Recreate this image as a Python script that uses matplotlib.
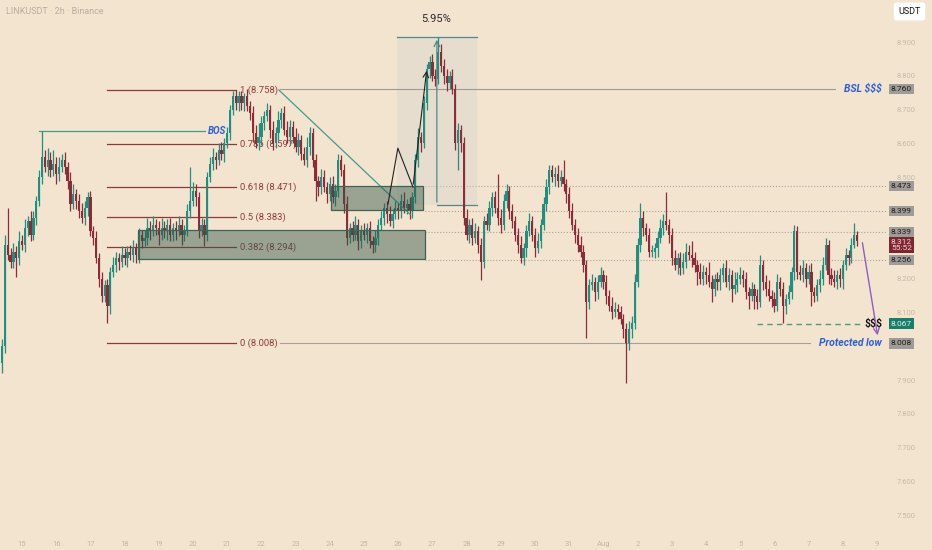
import matplotlib
matplotlib.use('Agg')
import matplotlib.pyplot as plt
import numpy as np
from matplotlib.patches import Rectangle

plt.rcParams['font.family'] = ['Roboto', 'DejaVu Sans']

# 2h candles of LINKUSDT, first one opens Jul 14 10:00 (x axis = day of July, Aug 1 = 32)
first_open = 7.95
closes = [
    8.00, 8.30, 8.27, 8.25, 8.28, 8.26, 8.31, 8.30, 8.35, 8.37, 8.33, 8.38,
    8.43, 8.50, 8.56, 8.53, 8.55, 8.52, 8.54, 8.51, 8.53, 8.55, 8.53, 8.49,
    8.42, 8.45, 8.43, 8.40, 8.38, 8.41, 8.44, 8.34, 8.32, 8.26, 8.20, 8.15,
    8.18, 8.12, 8.22, 8.24, 8.26, 8.25, 8.27, 8.26, 8.28, 8.27, 8.29, 8.27,
    8.33, 8.31, 8.32, 8.35, 8.34, 8.36, 8.35, 8.33, 8.35, 8.34, 8.36, 8.33,
    8.35, 8.34, 8.36, 8.33, 8.34, 8.40, 8.43, 8.46, 8.44, 8.34, 8.36, 8.33,
    8.50, 8.54, 8.56, 8.55, 8.58, 8.57, 8.60, 8.63, 8.70, 8.74, 8.72, 8.74,
    8.72, 8.74, 8.71, 8.69, 8.63, 8.60, 8.62, 8.66, 8.68, 8.70, 8.64, 8.60,
    8.63, 8.67, 8.69, 8.64, 8.62, 8.65, 8.62, 8.59, 8.61, 8.57, 8.55, 8.59,
    8.63, 8.55, 8.49, 8.47, 8.50, 8.47, 8.45, 8.48, 8.44, 8.46, 8.55, 8.52,
    8.42, 8.32, 8.35, 8.33, 8.36, 8.31, 8.34, 8.33, 8.35, 8.31, 8.30, 8.32,
    8.36, 8.38, 8.41, 8.39, 8.37, 8.39, 8.41, 8.40, 8.43, 8.41, 8.42, 8.40,
    8.44, 8.55, 8.62, 8.60, 8.72, 8.82, 8.84, 8.80, 8.79, 8.87, 8.83, 8.80,
    8.78, 8.80, 8.76, 8.60, 8.64, 8.60, 8.38, 8.33, 8.36, 8.32, 8.34, 8.30,
    8.25, 8.37, 8.36, 8.41, 8.44, 8.41, 8.38, 8.36, 8.43, 8.46, 8.40, 8.37,
    8.33, 8.30, 8.26, 8.29, 8.34, 8.37, 8.33, 8.29, 8.31, 8.36, 8.42, 8.47,
    8.52, 8.50, 8.51, 8.49, 8.50, 8.48, 8.45, 8.40, 8.36, 8.33, 8.30, 8.28,
    8.24, 8.13, 8.18, 8.19, 8.16, 8.19, 8.21, 8.19, 8.15, 8.12, 8.10, 8.11,
    8.10, 8.08, 8.05, 8.01, 8.05, 8.07, 8.19, 8.30, 8.38, 8.35, 8.33, 8.28,
    8.28, 8.29, 8.32, 8.35, 8.37, 8.36, 8.33, 8.26, 8.24, 8.26, 8.23, 8.25,
    8.28, 8.27, 8.26, 8.24, 8.22, 8.20, 8.22, 8.21, 8.19, 8.17, 8.20, 8.19,
    8.21, 8.23, 8.19, 8.21, 8.17, 8.18, 8.20, 8.21, 8.20, 8.16, 8.15, 8.17,
    8.15, 8.13, 8.24, 8.19, 8.17, 8.15, 8.14, 8.12, 8.19, 8.17, 8.12, 8.14,
    8.16, 8.22, 8.34, 8.22, 8.21, 8.23, 8.20, 8.22, 8.16, 8.15, 8.18, 8.20,
    8.24, 8.30, 8.21, 8.20, 8.19, 8.21, 8.20, 8.24, 8.27, 8.26, 8.30, 8.33, 8.312,
]
# upper / lower wick length beyond the body, in thousandths
wick_up = [
    20, 30, 110, 20, 25, 15, 30, 20, 25, 15, 30, 20,
    15, 20, 77, 20, 35, 25, 40, 20, 30, 20, 25, 15,
    25, 30, 15, 20, 25, 20, 15, 20, 15, 20, 15, 20,
    15, 20, 15, 25, 20, 15, 25, 20, 15, 20, 25, 15,
    20, 15, 25, 30, 20, 25, 15, 20, 30, 20, 15, 20,
    15, 20, 25, 15, 20, 20, 100, 25, 20, 15, 20, 15,
    15, 20, 25, 15, 20, 25, 15, 20, 15, 15, 18, 15,
    15, 10, 20, 15, 20, 25, 40, 20, 15, 20, 15, 25,
    20, 25, 15, 20, 25, 20, 15, 25, 20, 15, 20, 30,
    20, 15, 20, 15, 25, 20, 15, 20, 25, 20, 20, 15,
    20, 25, 15, 20, 25, 15, 20, 25, 15, 20, 15, 25,
    15, 20, 15, 20, 25, 15, 20, 15, 20, 25, 15, 20,
    15, 20, 25, 15, 20, 15, 20, 25, 20, 45, 25, 20,
    20, 15, 20, 15, 20, 15, 20, 25, 15, 20, 25, 15,
    20, 15, 25, 20, 15, 20, 100, 25, 20, 20, 15, 20,
    15, 20, 25, 15, 20, 25, 15, 20, 25, 15, 20, 25,
    16, 15, 20, 25, 20, 50, 15, 20, 25, 15, 20, 25,
    20, 15, 20, 25, 15, 20, 25, 15, 20, 15, 25, 20,
    15, 20, 15, 20, 25, 20, 25, 20, 43, 20, 15, 20,
    20, 15, 20, 25, 20, 86, 15, 20, 25, 15, 20, 25,
    25, 20, 40, 20, 15, 25, 20, 15, 40, 20, 15, 20,
    20, 15, 25, 20, 15, 40, 20, 25, 15, 20, 15, 20,
    15, 20, 30, 15, 20, 25, 15, 20, 25, 15, 20, 15,
    20, 15, 20, 15, 20, 25, 15, 20, 25, 15, 20, 25,
    25, 20, 15, 20, 25, 15, 20, 15, 20, 15, 20, 34, 10,
]
wick_dn = [
    30, 20, 15, 20, 20, 55, 20, 15, 20, 25, 20, 15,
    20, 15, 20, 15, 25, 20, 15, 30, 20, 15, 20, 25,
    20, 15, 25, 20, 15, 20, 25, 15, 20, 15, 25, 20,
    20, 50, 25, 15, 20, 25, 15, 20, 25, 15, 20, 25,
    25, 20, 15, 20, 25, 15, 20, 30, 15, 20, 25, 20,
    20, 25, 15, 30, 20, 15, 20, 15, 25, 20, 15, 35,
    20, 15, 20, 25, 15, 20, 25, 15, 20, 15, 20, 25,
    20, 25, 15, 20, 25, 15, 20, 25, 20, 15, 25, 20,
    15, 20, 25, 15, 20, 25, 20, 15, 25, 20, 15, 20,
    25, 20, 60, 25, 20, 15, 25, 20, 15, 25, 20, 15,
    25, 20, 15, 20, 15, 25, 20, 15, 25, 20, 24, 20,
    20, 15, 20, 25, 15, 20, 15, 25, 20, 15, 20, 25,
    20, 15, 20, 25, 15, 20, 25, 15, 20, 15, 20, 25,
    25, 20, 15, 20, 80, 25, 20, 15, 25, 20, 15, 25,
    55, 20, 15, 20, 25, 15, 20, 25, 15, 20, 25, 20,
    20, 25, 15, 20, 25, 15, 20, 25, 15, 20, 15, 20,
    20, 15, 25, 20, 15, 20, 25, 20, 15, 25, 20, 15,
    20, 106, 20, 15, 25, 20, 15, 20, 25, 15, 20, 15,
    20, 15, 25, 120, 20, 25, 20, 15, 20, 25, 20, 15,
    15, 20, 25, 15, 20, 15, 25, 20, 15, 25, 20, 15,
    20, 15, 25, 20, 40, 15, 20, 25, 15, 40, 20, 25,
    25, 20, 15, 25, 40, 15, 20, 15, 25, 20, 40, 15,
    40, 20, 15, 25, 20, 15, 25, 20, 15, 20, 50, 25,
    15, 20, 25, 20, 15, 20, 25, 15, 40, 20, 15, 20,
    20, 15, 25, 20, 15, 20, 25, 30, 15, 20, 15, 10, 15,
]

day_ticks = list(range(15, 41))
day_labels = [str(d) for d in range(15, 32)] + ['Aug'] + [str(d) for d in range(2, 10)]
price_ticks = [8.9, 8.8, 8.7, 8.6, 8.5, 8.2, 8.1, 7.9, 7.8, 7.7, 7.6, 7.5]

fib_ratios = ['0', '0.382', '0.5', '0.618', '0.786', '1']
fib_levels = [8.008, 8.294, 8.383, 8.471, 8.597, 8.758]

badge_levels = [8.760, 8.473, 8.399, 8.339, 8.256, 8.008]
dotted_levels = [8.473, 8.399, 8.339, 8.256]
last_price = 8.312
countdown = '55:52'
liq_level = 8.067
bos_level = 8.637
move_low, move_high = 8.418, 8.915
move_label = '5.95%'

BG = '#f3e4d0'
UP = '#1f8f7f'
DN = '#8b2c38'
FIB = '#8e3a3a'
TEAL = '#3d9e8e'
BLUE = '#2c5fd6'

fig = plt.figure(figsize=(9.32, 5.5), dpi=100)
fig.patch.set_facecolor(BG)
ax = fig.add_axes([0, 20 / 550, 887 / 932, 530 / 550])
ax.set_facecolor(BG)
ax.set_xlim(14.357, 40.292)
ax.set_ylim(7.4562, 9.0243)
for s in ax.spines.values():
    s.set_visible(False)

# candles
c = np.array(closes)
o = np.r_[first_open, c[:-1]]
h = np.maximum(o, c) + np.array(wick_up) / 1000
l = np.minimum(o, c) - np.array(wick_dn) / 1000
t = 14 + 5 / 12 + np.arange(len(c)) / 12
col = np.where(c >= o, UP, DN)
ax.vlines(t, l, h, colors=col, lw=0.9, zorder=3)
ax.bar(t, np.maximum(np.abs(c - o), 0.005), bottom=np.minimum(o, c), width=0.066,
       color=col, lw=0, zorder=4)

# fib retracement
for r, lvl in zip(fib_ratios, fib_levels):
    ax.plot([17.5, 21.26], [lvl, lvl], color=FIB, lw=0.9, zorder=2)
    ax.text(21.38, lvl, f'{r} ({lvl:.3f})', color=FIB, fontsize=6.8,
            va='center', ha='left', zorder=2)

# liquidity lines
ax.plot([22.53, 38.77], [8.760, 8.760], color='#9c9a98', lw=0.8, zorder=2)
ax.text(40.15, 8.760, 'BSL $$$', color=BLUE, fontsize=7.5, fontweight='bold',
        style='italic', ha='right', va='center', parse_math=False, zorder=6)
ax.plot([22.54, 38.04], [8.008, 8.008], color='#aa9c9c', lw=0.8, zorder=2)
ax.text(40.15, 8.008, 'Protected low', color=BLUE, fontsize=7.5, fontweight='bold',
        style='italic', ha='right', va='center', zorder=6)
ax.plot([36.49, 39.56], [liq_level, liq_level], color='#4f9a7a', lw=1,
        ls=(0, (4, 3)), zorder=2)
ax.text(40.15, liq_level, '$$$', color='#111111', fontsize=7.5, fontweight='bold',
        ha='right', va='center', parse_math=False, zorder=6)

# BOS and trendline
ax.plot([15.5, 20.35], [bos_level, bos_level], color=TEAL, lw=0.9, zorder=2)
ax.text(20.44, bos_level, 'BOS', color=BLUE, fontsize=7, fontweight='bold',
        style='italic', ha='left', va='center', zorder=6)
ax.plot([22.51, 26.35], [8.758, 8.39], color=TEAL, lw=0.9, zorder=5)

# zones
for x0, x1, y0, y1 in [(18.39, 26.78, 8.258, 8.344), (24.04, 26.72, 8.403, 8.474)]:
    ax.add_patch(Rectangle((x0, y0), x1 - x0, y1 - y0, fc='#2f5545', alpha=0.45,
                           ec='none', zorder=5))
    ax.add_patch(Rectangle((x0, y0), x1 - x0, y1 - y0, fc='none', ec='#3f6352',
                           lw=0.9, zorder=5))
for lvl in dotted_levels:
    ax.plot([26.78, 40.292], [lvl, lvl], color='#aaa49c', lw=0.8, ls=':', zorder=1)

# price range measurement
ax.add_patch(Rectangle((25.96, move_low), 28.30 - 25.96, move_high - move_low,
                       fc='#d6d2cc', alpha=0.38, lw=0, zorder=1))
ax.plot([25.96, 28.30], [move_high, move_high], color='#4f8a8a', lw=0.9, zorder=2)
ax.plot([27.13, 28.30], [move_low, move_low], color='#4f8a8a', lw=0.9, zorder=2)
ax.annotate('', xy=(27.13, move_high), xytext=(27.13, move_low),
            arrowprops=dict(arrowstyle='->', color='#4f8a8a', lw=0.9), zorder=2)
ax.text(27.1, 8.968, move_label, color='#2a2a2a', fontsize=8, ha='center', va='center')

# projected path
ax.plot([25.70, 25.99, 26.43], [8.42, 8.586, 8.471], color='#222222', lw=0.8, zorder=6)
ax.annotate('', xy=(26.84, 8.823), xytext=(26.43, 8.471),
            arrowprops=dict(arrowstyle='->', color='#222222', lw=0.8), zorder=6)
ax.annotate('', xy=(40.03, 8.024), xytext=(39.56, 8.314),
            arrowprops=dict(arrowstyle='->', color='#8e5fc0', lw=1), zorder=6)

# axes
ax.yaxis.tick_right()
ax.set_yticks(price_ticks, [f'{p:.3f}' for p in price_ticks])
ax.set_xticks(day_ticks, day_labels)
ax.tick_params(axis='y', length=0, pad=7, labelsize=5.5, labelcolor='#c8baa8')
ax.tick_params(axis='x', length=0, pad=8, labelsize=5.5, labelcolor='#c4b6a4')

ytr = ax.get_yaxis_transform()
for lvl in badge_levels:
    ax.text(1.0045, lvl, f'{lvl:.3f}', transform=ytr, ha='left', va='center', fontsize=6,
            color='#1e1e1e', bbox=dict(boxstyle='square,pad=0.25', fc='#9e9b98', ec='none'),
            zorder=10, clip_on=False)
ax.text(1.0045, last_price - 0.012, f'{last_price:.3f}\n{countdown}', transform=ytr,
        ha='left', va='center', fontsize=6, color='#f3d6da', linespacing=1.0,
        bbox=dict(boxstyle='square,pad=0.25', fc='#7e2530', ec='none'), zorder=11, clip_on=False)
ax.text(1.0045, liq_level, f'{liq_level:.3f}', transform=ytr, ha='left', va='center',
        fontsize=6, color='#e6f2ec', bbox=dict(boxstyle='square,pad=0.25', fc='#157f69', ec='none'),
        zorder=10, clip_on=False)

fig.text(6 / 932, 1 - 12 / 550, 'LINKUSDT · 2h · Binance', fontsize=6.5, color='#b9ad9f',
         va='center', ha='left')
fig.text(909.5 / 932, 1 - 11.5 / 550, 'USDT', fontsize=6.5, color='#111111', ha='center',
         va='center', bbox=dict(boxstyle='round,pad=0.5,rounding_size=0.3', fc='white', ec='none'))

fig.savefig('out.png', dpi=100, facecolor=BG)
